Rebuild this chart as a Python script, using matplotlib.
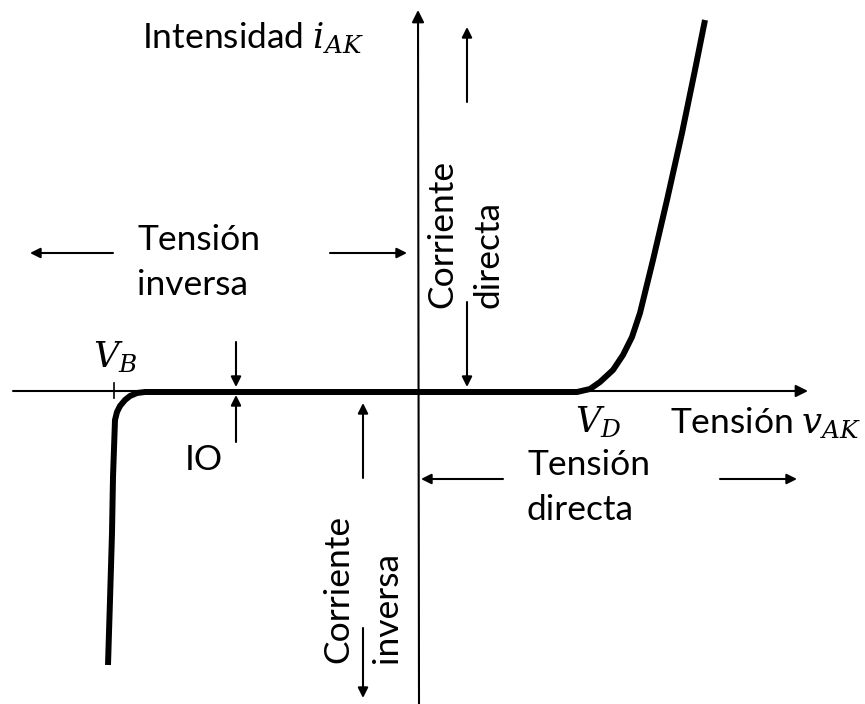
import matplotlib.pyplot as plt

plt.rcParams['font.family'] = ['Lato', 'DejaVu Sans']
plt.rcParams['mathtext.fontset'] = 'dejavuserif'

# diode curve (x = tension, y = current, pixel units, y down)
curve_v = [108, 110, 112, 113, 115, 117, 120, 125, 130, 137, 145,
           577, 590, 600, 613, 623, 632, 640, 653, 667, 682, 695, 705]
curve_i = [665, 600, 533, 477, 420, 412, 406, 400, 396, 393, 392,
           392, 389, 382, 370, 355, 337, 313, 260, 200, 133, 70, 20]

# (x0, y0, x1, y1) for the annotation arrows
arrows = [
    (113, 253, 30, 253),    # tension inversa, left
    (330, 253, 407, 253),   # tension inversa, right
    (503, 479, 421, 479),   # tension directa, left
    (720, 479, 797, 479),   # tension directa, right
    (467, 102, 467, 27),    # corriente directa, up
    (467, 302, 467, 387),   # corriente directa, down
    (236, 342, 236, 387),   # IO, down
    (236, 442, 236, 395),   # IO, up
    (363, 478, 363, 403),   # corriente inversa, up
    (363, 628, 363, 698),   # corriente inversa, down
]

# (x, baseline y, text, horizontal alignment)
labels = [
    (142, 48, 'Intensidad $i_{AK}$', 'left'),
    (137, 250, 'Tensión', 'left'),
    (137, 295, 'inversa', 'left'),
    (527, 475, 'Tensión', 'left'),
    (527, 520, 'directa', 'left'),
    (185, 470, 'IO', 'left'),
    (93, 367, '$V_B$', 'left'),
    (575, 432, '$V_D$', 'left'),
    (862, 433, 'Tensión $v_{AK}$', 'right'),
]

# rotated labels: (baseline x, start y, text)
vlabels = [
    (452, 308, 'Corriente'),
    (498, 308, 'directa'),
    (348, 663, 'Corriente'),
    (397, 663, 'inversa'),
]

fig = plt.figure(figsize=(8.65, 7.04), dpi=100)
ax = fig.add_axes([0, 0, 1, 1])
ax.set_xlim(0, 865)
ax.set_ylim(704, 0)
ax.axis('off')

big = dict(arrowstyle='-|>', mutation_scale=18, lw=1.5, color='k', shrinkA=0, shrinkB=0)
small = dict(arrowstyle='-|>', mutation_scale=15, lw=1.5, color='k', shrinkA=0, shrinkB=0)

# axes of the diagram
ax.annotate('', xy=(808, 391), xytext=(13, 391), arrowprops=big)
ax.annotate('', xy=(418, 10), xytext=(419, 704), arrowprops=big)
ax.plot([114, 114], [383, 398], color='k', lw=1.2)

ax.plot(curve_v, curve_i, color='k', lw=4.3, solid_joinstyle='round', solid_capstyle='butt')

for x0, y0, x1, y1 in arrows:
    ax.annotate('', xy=(x1, y1), xytext=(x0, y0), arrowprops=small)

for x, y, s, h in labels:
    ax.text(x, y, s, fontsize=25.5, ha=h, va='baseline')

for x, y, s in vlabels:
    ax.text(x, y, s, fontsize=25.5, rotation=90, rotation_mode='anchor',
            ha='left', va='baseline')

fig.savefig('out.png', dpi=100)
